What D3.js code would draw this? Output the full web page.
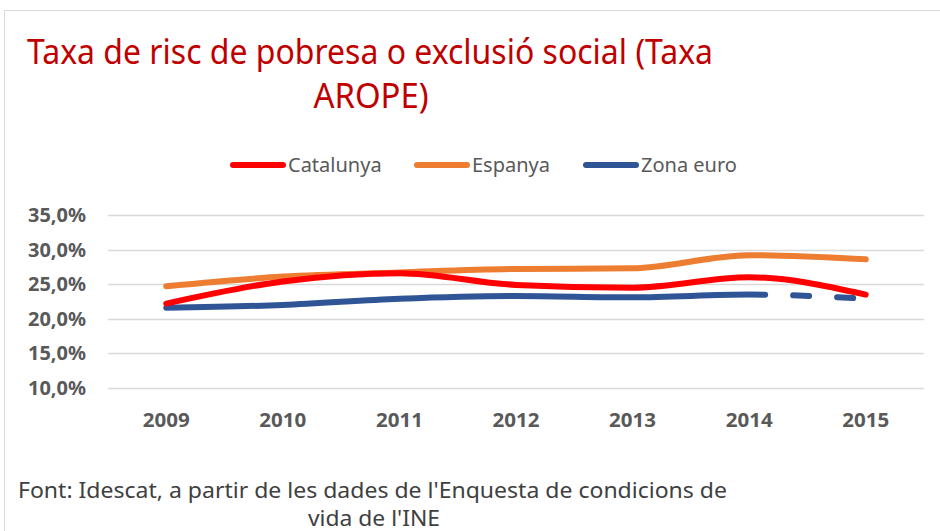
<!DOCTYPE html>
<html>
<head>
<meta charset="utf-8">
<script src="https://cdn.jsdelivr.net/npm/d3@7"></script>
<style>
  body { margin: 0; background: #fff; }
  svg { display: block; font-family: "Noto Sans", sans-serif; }
</style>
</head>
<body>
<svg id="chart" width="940" height="531"></svg>
<script>
const years = ['2009', '2010', '2011', '2012', '2013', '2014', '2015'];
const catalunya = [22.2, 25.4, 26.6, 24.9, 24.5, 26.0, 23.5];
const espanya = [24.7, 26.1, 26.7, 27.2, 27.3, 29.2, 28.6];
const zonaEuro = [21.6, 22.0, 22.9, 23.3, 23.1, 23.5, 22.9];
const yTicks = [10, 15, 20, 25, 30, 35];
const seriesNames = ['Catalunya', 'Espanya', 'Zona euro'];
const seriesColors = ['#FF0000', '#ED7D31', '#2F5597'];

const svg = d3.select('#chart');

// chart frame
svg.append('path')
    .attr('d', 'M4.5,531 V10.5 H940')
    .attr('fill', 'none')
    .attr('stroke', '#D9D9D9')
    .attr('stroke-width', 1);

// title
svg.append('text')
    .attr('x', 27).attr('y', 64)
    .attr('fill', '#C00000')
    .style('font-size', '34px')
    .attr('textLength', 686)
    .attr('lengthAdjust', 'spacingAndGlyphs')
    .text('Taxa de risc de pobresa o exclusió social (Taxa');
svg.append('text')
    .attr('x', 371).attr('y', 108)
    .attr('fill', '#C00000')
    .attr('text-anchor', 'middle')
    .style('font-size', '34px')
    .attr('textLength', 115)
    .attr('lengthAdjust', 'spacingAndGlyphs')
    .text('AROPE)');

const x = d3.scaleBand().domain(years).range([108, 924]);
const y = d3.scaleLinear().domain([10, 35]).range([388, 215]);

// gridlines
svg.append('g')
    .selectAll('line')
    .data(yTicks)
    .enter().append('line')
    .attr('x1', 108).attr('x2', 924)
    .attr('y1', d => Math.round(y(d)) + 0.5)
    .attr('y2', d => Math.round(y(d)) + 0.5)
    .attr('stroke', '#D9D9D9')
    .attr('stroke-width', 1.5);

const fmt = d => d.toFixed(1).replace('.', ',') + '%';

svg.append('g')
    .selectAll('text')
    .data(yTicks)
    .enter().append('text')
    .attr('x', 86)
    .attr('y', d => y(d))
    .attr('dy', '0.36em')
    .attr('text-anchor', 'end')
    .attr('fill', '#595959')
    .style('font-size', '19.5px')
    .style('font-weight', 'bold')
    .attr('textLength', 58)
    .attr('lengthAdjust', 'spacingAndGlyphs')
    .text(fmt);

svg.append('g')
    .selectAll('text')
    .data(years)
    .enter().append('text')
    .attr('x', d => x(d) + x.bandwidth() / 2)
    .attr('y', 427)
    .attr('text-anchor', 'middle')
    .attr('fill', '#595959')
    .style('font-size', '19.5px')
    .style('font-weight', 'bold')
    .attr('textLength', 47)
    .attr('lengthAdjust', 'spacingAndGlyphs')
    .text(d => d);

const line = d3.line()
    .x((d, i) => x(years[i]) + x.bandwidth() / 2)
    .y(d => y(d))
    .curve(d3.curveMonotoneX);

const series = [catalunya, espanya, zonaEuro];

// draw zona euro first so the other lines sit on top
[2, 1, 0].forEach(k => {
    const p = svg.append('path')
        .attr('d', line(series[k]))
        .attr('fill', 'none')
        .attr('stroke', seriesColors[k])
        .attr('stroke-width', 6)
        .attr('stroke-linecap', 'round')
        .attr('stroke-linejoin', 'round');

    if (k === 2) {
        // last segment (2014-2015) dashed
        const node = p.node();
        const total = node.getTotalLength();
        const xCut = x(years[5]) + x.bandwidth() / 2;
        let lo = 0, hi = total;
        for (let i = 0; i < 30; i++) {
            const mid = (lo + hi) / 2;
            if (node.getPointAtLength(mid).x < xCut) lo = mid; else hi = mid;
        }
        p.attr('stroke-dasharray', [lo + 16, 28, 16, 28, 16, 200].join(','));
    }
});

// legend
const legendX = [230, 414, 583];
const legend = svg.append('g');
seriesNames.forEach((name, i) => {
    legend.append('line')
        .attr('x1', legendX[i] + 3).attr('x2', legendX[i] + 53)
        .attr('y1', 165).attr('y2', 165)
        .attr('stroke', seriesColors[i])
        .attr('stroke-width', 6)
        .attr('stroke-linecap', 'round');
    legend.append('text')
        .attr('x', legendX[i] + 58)
        .attr('y', 165)
        .attr('dy', '0.36em')
        .attr('fill', '#595959')
        .style('font-size', '20px')
        .text(name);
});

// source note
svg.append('text')
    .attr('x', 18).attr('y', 498)
    .attr('fill', '#404040')
    .style('font-size', '21px')
    .attr('textLength', 709)
    .attr('lengthAdjust', 'spacingAndGlyphs')
    .text("Font: Idescat, a partir de les dades de l'Enquesta de condicions de");
svg.append('text')
    .attr('x', 374).attr('y', 526)
    .attr('text-anchor', 'middle')
    .attr('fill', '#404040')
    .style('font-size', '21px')
    .attr('textLength', 132)
    .attr('lengthAdjust', 'spacingAndGlyphs')
    .text("vida de l'INE");
</script>
</body>
</html>
